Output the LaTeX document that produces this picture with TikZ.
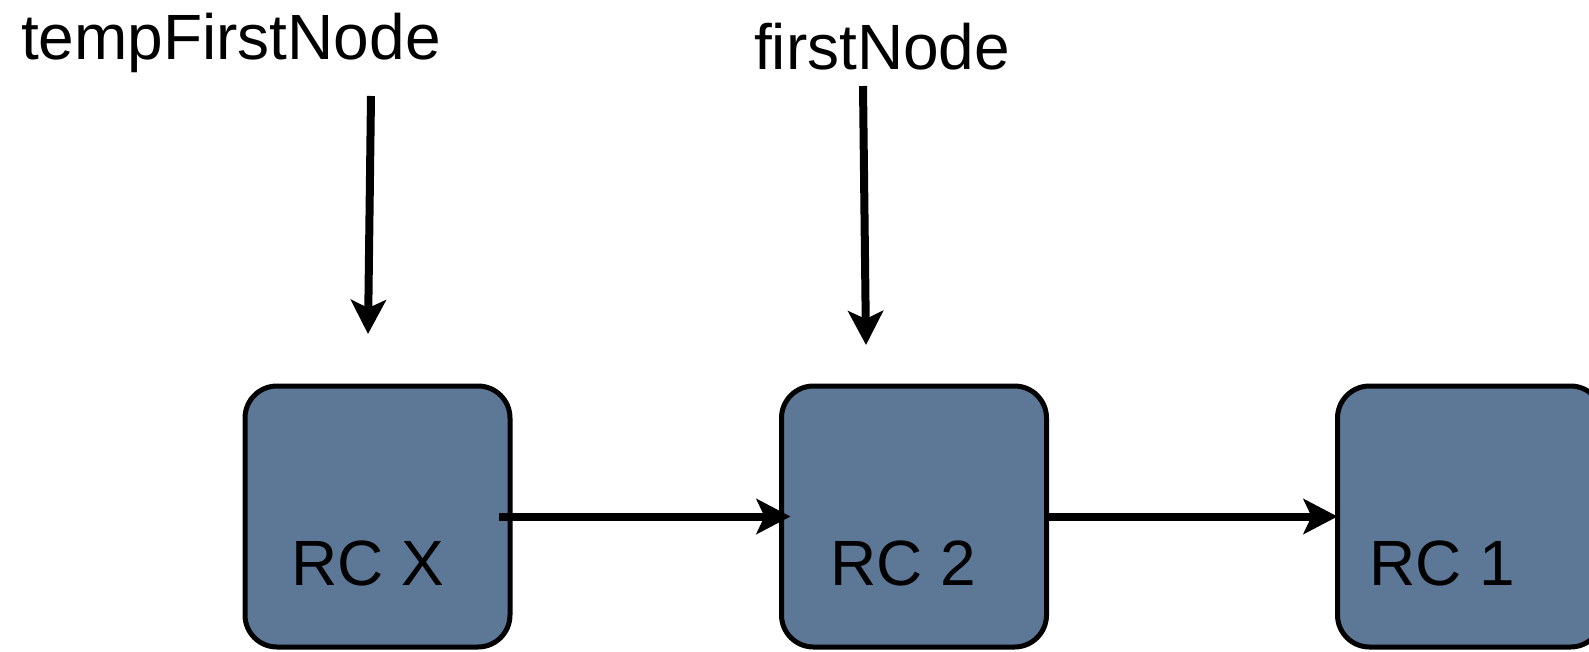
\documentclass[tikz,border=0pt]{standalone}
\usepackage{fontspec}
\setmainfont{Liberation Sans}
\usetikzlibrary{arrows.meta}

\definecolor{boxblue}{HTML}{5D7897}

\tikzset{
  rcbox/.style={draw=black, fill=boxblue, line width=5pt, rounded corners=32pt,
    minimum width=265pt, minimum height=261pt, inner sep=0pt, outer sep=0pt},
  txt/.style={inner sep=0pt, outer sep=0pt, anchor=base west,
    font=\fontsize{64}{76}\selectfont},
  link/.style={line width=8pt, -{Stealth[length=34pt, width=35pt, inset=8pt]}},
}

\begin{document}
\begin{tikzpicture}[x=1pt, y=-1pt]
  \useasboundingbox (0,0) rectangle (1589,651);

  % the three list cells
  \node[rcbox] (rcx) at (377.5,516.5) {};
  \node[rcbox] (rc2) at (914,516.5) {};
  \node[rcbox] (rc1) at (1470,516.5) {};

  \node[txt] (tx) at (291,585) {RC X};
  \node[txt] (t2) at (830,585) {RC 2};
  \node[txt] (t1) at (1369,585) {RC 1};

  % pointer names
  \node[txt] (tfn) at (21,59) {tempFirstNode};
  \node[txt] (fn) at (754,69) {firstNode};

  \coordinate (tfnfrom) at (371,96);
  \coordinate (tfnto) at (368,334);
  \coordinate (fnfrom) at (863,86);
  \coordinate (fnto) at (866,345);

  % links between cells
  \draw[link] ([xshift=-11pt]rcx.east) -- ([xshift=9pt]rc2.west);
  \draw[link] (rc2.east) -- (rc1.west);

  % pointers
  \draw[link] (tfnfrom) -- (tfnto);
  \draw[link] (fnfrom) -- (fnto);
\end{tikzpicture}
\end{document}
